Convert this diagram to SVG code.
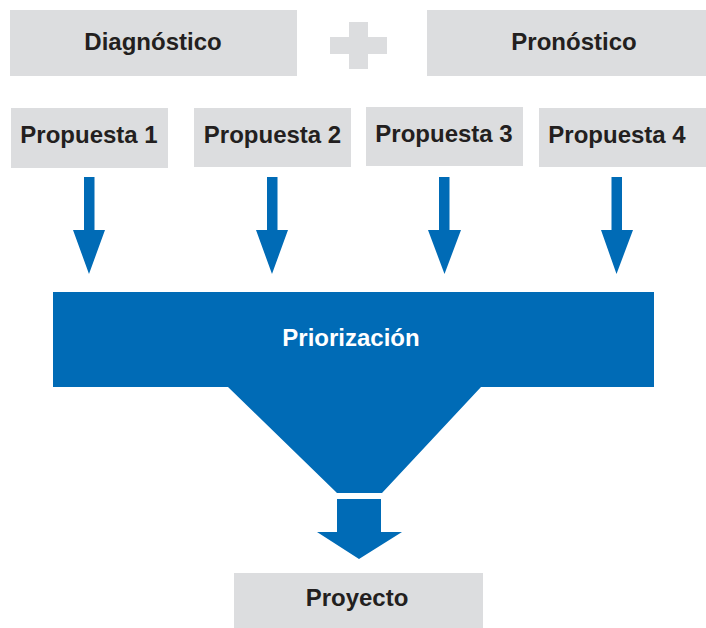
<svg xmlns="http://www.w3.org/2000/svg" width="706" height="628" viewBox="0 0 706 628">
<style>
.box{fill:#dcdddf}
.lbl{font-family:"Liberation Sans",Arial,sans-serif;font-weight:bold;font-size:24px;fill:#231f20;text-anchor:middle}
.blue{fill:#006bb6}
.wlbl{font-family:"Liberation Sans",Arial,sans-serif;font-weight:bold;font-size:24px;fill:#ffffff;text-anchor:middle}
</style>
<rect width="706" height="628" fill="#ffffff"/>
<g id="diagnostico"><rect class="box" x="10" y="10" width="287" height="66"/><text class="lbl" x="153" y="50">Diagnóstico</text></g>
<g id="plus"><rect class="box" x="330" y="37" width="57" height="17"/><rect class="box" x="349" y="22" width="19" height="47"/></g>
<g id="pronostico"><rect class="box" x="427" y="10" width="279" height="66"/><text class="lbl" x="574" y="50">Pronóstico</text></g>
<g id="propuesta1"><rect class="box" x="11" y="108" width="157" height="60"/><text class="lbl" x="89" y="143">Propuesta 1</text></g>
<g id="propuesta2"><rect class="box" x="194" y="108" width="157" height="59"/><text class="lbl" x="272.5" y="143">Propuesta 2</text></g>
<g id="propuesta3"><rect class="box" x="366" y="107" width="157" height="59"/><text class="lbl" x="444" y="142">Propuesta 3</text></g>
<g id="propuesta4"><rect class="box" x="539" y="108" width="167" height="59"/><text class="lbl" x="617" y="143">Propuesta 4</text></g>
<g id="connectors">
<path class="blue" d="M84 177H94.5V230H105L89 274L73 230H84Z"/>
<path class="blue" d="M267 177H277.5V230H288L272 274L256 230H267Z"/>
<path class="blue" d="M439 177H449.5V230H461L444.5 274L428 230H439Z"/>
<path class="blue" d="M611.5 177H622V230H633L616.5 274L601 230H611.5Z"/>
<path class="blue" d="M337 499H381V532H402L359 559L317 532H337Z"/>
</g>
<g id="priorizacion"><path class="blue" d="M53 292H654V387H481L382 493H337L228 387H53Z"/><text class="wlbl" x="351" y="346">Priorización</text></g>
<g id="proyecto"><rect class="box" x="234" y="573" width="249" height="55"/><text class="lbl" x="357" y="606">Proyecto</text></g>
</svg>
